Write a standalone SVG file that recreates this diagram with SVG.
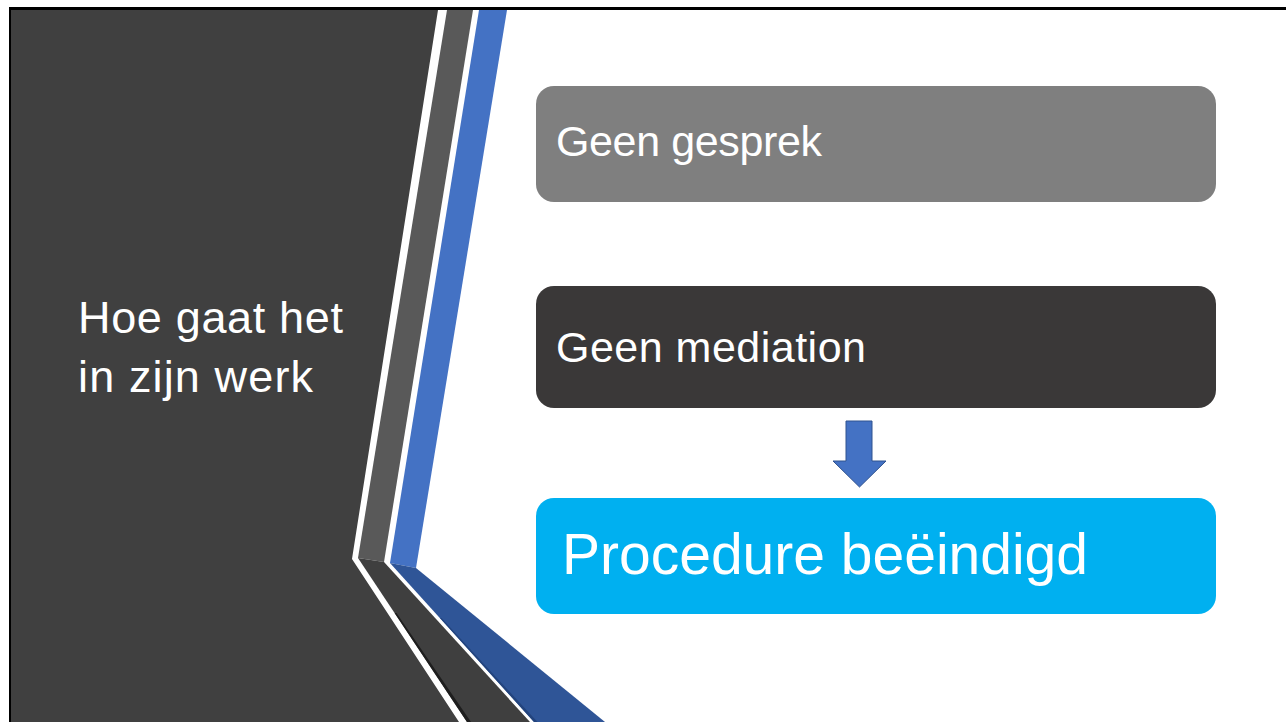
<svg xmlns="http://www.w3.org/2000/svg" width="1286" height="722" viewBox="0 0 1286 722">
  <style>
    .t { font-family: "Liberation Sans", Arial, sans-serif; fill: #ffffff; }
  </style>
  <rect x="0" y="0" width="1286" height="722" fill="#ffffff"/>
  <g id="background">
    <polygon points="11,10 438,10 352,559 459,722 11,722" fill="#404040"/>
    <polygon points="447,10 473,10 384,562 358,558" fill="#595959"/>
    <polygon points="358,558 384,562 530,722 467,722" fill="#3f3f3f"/>
    <polygon points="394.6,613 467,722 471,722 396.5,613" fill="#1e1e1e"/>
    <polygon points="479,10 507,10 416,568 390,563" fill="#4472c4"/>
    <polygon points="390,563 416,568 605,722 534,722" fill="#2f5597"/>
    <polygon points="440,618 534,722 537.5,722 441.5,618" fill="#23447d"/>
    <line x1="9" y1="8.5" x2="1286" y2="8.5" stroke="#000000" stroke-width="3"/>
    <line x1="10" y1="7" x2="10" y2="722" stroke="#000000" stroke-width="2"/>
  </g>
  <g id="title">
    <text class="t" x="78" y="333" font-size="45" textLength="265" lengthAdjust="spacing">Hoe gaat het</text>
    <text class="t" x="78" y="392" font-size="45" textLength="235" lengthAdjust="spacing">in zijn werk</text>
  </g>
  <g id="node-geen-gesprek">
    <rect x="536" y="86" width="680" height="116" rx="18" fill="#7f7f7f"/>
    <text class="t" x="556" y="156" font-size="43" textLength="266" lengthAdjust="spacing">Geen gesprek</text>
  </g>
  <g id="node-geen-mediation">
    <rect x="536" y="286" width="680" height="122" rx="18" fill="#3a3838"/>
    <text class="t" x="556" y="362" font-size="43" textLength="310" lengthAdjust="spacing">Geen mediation</text>
  </g>
  <g id="node-procedure">
    <rect x="536" y="498" width="680" height="116" rx="18" fill="#00b0f0"/>
    <text class="t" x="562" y="574" font-size="57" textLength="526" lengthAdjust="spacing">Procedure beëindigd</text>
  </g>
  <g id="connectors">
    <polygon points="846,421 872,421 872,461 886,461 859.5,487 833,461 846,461" fill="#4472c4" stroke="#2f528f" stroke-width="1"/>
  </g>
</svg>
